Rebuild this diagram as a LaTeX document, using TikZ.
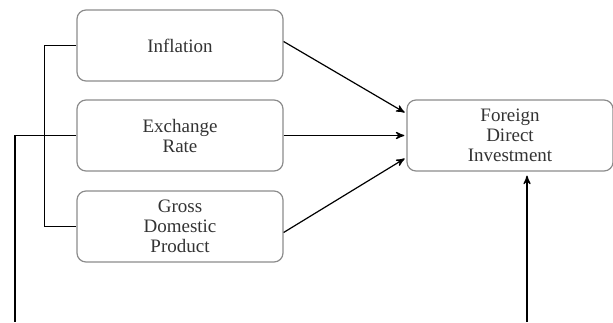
\documentclass[tikz,border=0pt]{standalone}
\usepackage{fontspec}
\setmainfont{Liberation Serif}
\usepackage{xcolor}
\usetikzlibrary{arrows}

\definecolor{boxline}{HTML}{8C8C8C}
\definecolor{boxtext}{HTML}{333333}

\tikzset{
  factor/.style={draw=boxline, line width=0.6pt, rounded corners=4.5pt,
    minimum width=103pt, minimum height=35.5pt, inner sep=1pt,
    align=center, text=boxtext, font=\fontsize{9.5}{10}\selectfont},
  link/.style={line width=0.6pt, black}
}

\begin{document}
\begin{tikzpicture}[x=0.5pt,y=-0.5pt,shorten >=1pt]
\useasboundingbox (0,0) rectangle (613,322);
\node[factor]		   (Inf) at (180,45.5)         {Inflation};
  \node[factor]		   (Exr) at (180,135.5)        {Exchange\\Rate};
  \node[factor]		   (GDP) at (180,226.5)        {Gross\\Domestic\\Product};
  \node[factor]		   (FDI) at (510,135.5)        {Foreign\\Direct\\Investment};
  \coordinate (Left) at (15,322);
  \coordinate (Bot) at (527,322);

  \draw[link, shorten >=0pt] (Inf.west) -- ++(-32,0) |- (GDP.west);
  \draw[link, shorten >=0pt] (Exr.west) -| (Left);

  \path[link, ->,>=stealth'] 
		([yshift=2pt]Inf.east) edge              node {} ([yshift=11pt]FDI.west)
        (Exr.east) edge              node {} (FDI.west)
        ([yshift=-3pt]GDP.east) edge              node {} ([yshift=-11pt]FDI.west)
        (Bot) edge [shorten >=2pt]             node {} (Bot |- FDI.south);
    \end{tikzpicture}
\end{document}
